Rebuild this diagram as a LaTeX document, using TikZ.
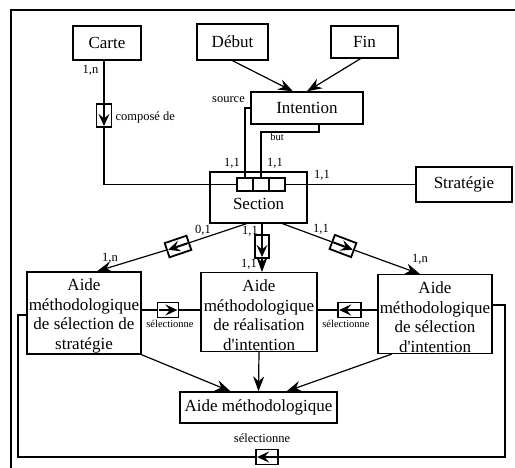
\documentclass[tikz,border=0pt]{standalone}
\usepackage{fontspec}
\setmainfont{Liberation Serif}[Ligatures=TeXOff]
\usepackage{tikz}
\usetikzlibrary{arrows,arrows.meta,calc}
\tikzstyle{box}=[rectangle,draw=black,fill=white,line width=1.3pt,
  inner sep=1pt,align=center,font=\fontsize{17}{19.5}\selectfont]
\tikzstyle{cell}=[rectangle,draw=black,fill=white,line width=1.3pt,
  inner sep=0pt,minimum width=16pt,minimum height=13pt]
\tikzstyle{rel}=[rectangle,draw=black,fill=white,line width=1.8pt,
  inner sep=0pt,minimum width=23pt,minimum height=15pt]
\tikzstyle{lab}=[inner sep=0pt,font=\fontsize{12.5}{14}\selectfont]
\tikzstyle{slab}=[inner sep=0pt,font=\fontsize{10.5}{12}\selectfont]
\tikzstyle{arr}=[-{Stealth[length=15pt,width=11pt,inset=5pt]}]
\tikzstyle{relarr}=[line width=2pt,-{Stealth[length=12pt,width=11pt,inset=4.5pt]},
  shorten <=2pt,shorten >=2pt]
\tikzstyle{none}=[]

\begin{document}
\begin{tikzpicture}[x=1pt,y=-1pt,line width=1.2pt]
            \useasboundingbox (0,0) rectangle (515,467);
            \draw [line width=1.3pt] (11,470) -- (11,10) -- (518,10);
            % boxes
            \node [style=box,minimum width=68pt,minimum height=34pt] (0) at (107,43) {Carte};
            \node [style=box,minimum width=71pt,minimum height=36pt] (1) at (232.5,42) {Début};
            \node [style=box,minimum width=67pt,minimum height=32pt] (2) at (364.5,42) {Fin};
            \node [style=box,minimum width=112pt,minimum height=32pt] (3) at (307,108) {Intention};
            \node [style=box,minimum width=97pt,minimum height=51pt,text height=23pt,text depth=0pt] (4) at (258.5,197.5) {Section};
            \node [style=cell] (5) at (245,184.5) {};
            \node [style=cell] (6) at (261,184.5) {};
            \node [style=cell] (7) at (277,184.5) {};
            \node [style=box,minimum width=96pt,minimum height=35pt] (8) at (464,184.5) {Stratégie};
            \node [style=box,minimum width=114pt,minimum height=78pt] (9) at (84,313) {\rule{0pt}{18pt}Aide\\méthodologique\\de sélection de\\stratégie};
            \node [style=box,minimum width=116pt,minimum height=78pt] (10) at (259,312) {\rule{0pt}{18pt}Aide\\méthodologique\\de réalisation\\d'intention};
            \node [style=box,minimum width=114pt,minimum height=78pt] (11) at (435,314) {\rule{0pt}{18pt}Aide\\méthodologique\\de sélection\\d'intention};
            \node [style=box,minimum width=157pt,minimum height=31pt] (12) at (258.5,407.5) {Aide méthodologique};
            % relation boxes
            \node [style=rel,rotate=-90] (13) at (104,115.5) {};
            \node [style=rel,rotate=198.8] (14) at (178,246.5) {};
            \node [style=rel,rotate=-90,minimum height=14pt] (15) at (262,246.5) {};
            \node [style=rel,rotate=-20.7] (16) at (343,246) {};
            \node [style=rel,minimum width=21pt] (17) at (168,310) {};
            \node [style=rel,rotate=180,minimum width=23pt] (18) at (349.5,310) {};
            \node [style=rel,rotate=180,minimum width=22pt] (19) at (267,457) {};
            % corners
            \node [style=none] (20) at (18,315) {};
            \node [style=none] (21) at (18,457) {};
            \node [style=none] (22) at (505,457) {};
            \node [style=none] (23) at (505,305) {};
            \node [style=none] (24) at (104,184.5) {};
            \node [style=none] (25) at (245,108) {};
            \node [style=none] (26) at (319,132) {};
            \node [style=none] (27) at (261,132) {};
            % labels
            \node [style=lab] (30) at (90.5,70) {1,n};
            \node [style=lab,anchor=west] (31) at (115,117) {composé de};
            \node [style=lab] (32) at (228.5,100) {source};
            \node [style=slab] (33) at (277,137) {but};
            \node [style=lab] (34) at (232,163) {1,1};
            \node [style=lab] (35) at (275,163) {1,1};
            \node [style=lab] (36) at (322,175) {1,1};
            \node [style=lab] (37) at (203,230) {0,1};
            \node [style=lab] (38) at (250,231) {1,1};
            \node [style=lab] (39) at (321,229) {1,1};
            \node [style=lab] (40) at (110,258) {1,n};
            \node [style=lab] (41) at (249,264) {1,1};
            \node [style=lab] (42) at (420,259) {1,n};
            \node [style=slab] (43) at (170,324) {sélectionne};
            \node [style=slab] (44) at (346,324) {sélectionne};
            \node [style=lab] (45) at (262,438) {sélectionne};
            % arrows inside relation boxes
            \draw [style=relarr] (13.west) to (13.east);
            \draw [style=relarr] (14.west) to (14.east);
            \draw [style=relarr] (15.west) to (15.east);
            \draw [style=relarr] (16.west) to (16.east);
            \draw [style=relarr] (17.west) to (17.east);
            \draw [style=relarr] (18.west) to (18.east);
            \draw [style=relarr] (19.west) to (19.east);
            % connectors
            \draw (0.south -| 13) to (13);
            \draw (13) to (24.center) to (5.west);
            \draw [style=arr] (1.south) to ([xshift=-14pt]3.north);
            \draw [style=arr] ([xshift=-4pt]2.south) to (3.north);
            \draw (3.west) to (25.center) to (5.north);
            \draw ([xshift=12pt]3.south) to (26.center) to (27.center) to (6.north);
            \draw (7.east) to (8.west);
            \draw ([xshift=-12pt]4.south) to (14);
            \draw [style=arr] (14) to ([xshift=13pt]9.north);
            \draw (4.south -| 15) to (15);
            \draw [style=arr] (15) to (10.north -| 15);
            \draw ([xshift=24pt]4.south) to (16);
            \draw [style=arr] (16) to ([xshift=-15pt]11.north);
            \draw (9.east |- 17) to (17) to (10.west |- 17);
            \draw (10.east |- 18) to (18) to (11.west |- 18);
            \draw [style=arr] (9.south east) to ([xshift=-28pt]12.north);
            \draw [style=arr] (10.south) to (12.north);
            \draw [style=arr] ([xshift=-43pt]11.south) to ([xshift=28pt]12.north);
            \draw (9.west |- 20) to (20.center) to (21.center) to (19);
            \draw (19) to (22.center) to (23.center) to (11.east |- 23);
\end{tikzpicture}
\end{document}
